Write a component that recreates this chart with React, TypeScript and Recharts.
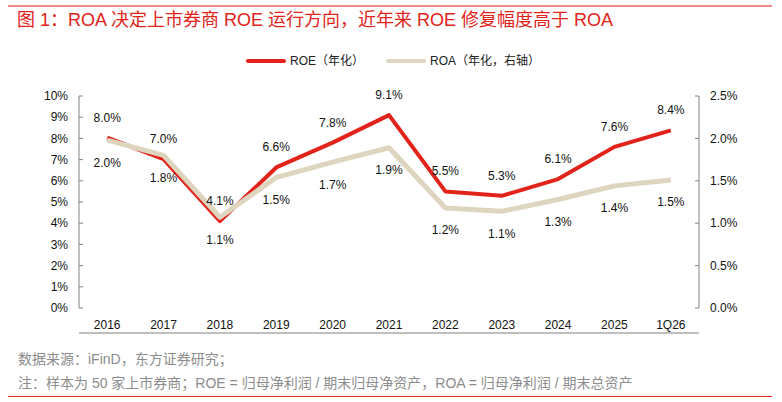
import React from 'react';
import { LineChart, Line, XAxis, YAxis, LabelList } from 'recharts';

const categories = ['2016', '2017', '2018', '2019', '2020', '2021', '2022', '2023', '2024', '2025', '1Q26'];
const roeValues = [8.04, 7.02, 4.1, 6.63, 7.8, 9.1, 5.5, 5.29, 6.08, 7.6, 8.38];
const roaValues = [1.98, 1.8, 1.07, 1.54, 1.72, 1.89, 1.18, 1.14, 1.28, 1.44, 1.51];
const leftTicks = [0, 1, 2, 3, 4, 5, 6, 7, 8, 9, 10];
const rightTicks = [0, 0.5, 1, 1.5, 2, 2.5];
const boundaryTicks = [0.5, 1.5, 2.5, 3.5, 4.5, 5.5, 6.5, 7.5, 8.5, 9.5];
const centerTicks = categories.map((_, i) => i);

const title = '图 1：ROA 决定上市券商 ROE 运行方向，近年来 ROE 修复幅度高于 ROA';
const roeName = 'ROE（年化）';
const roaName = 'ROA（年化，右轴）';
const source = '数据来源：iFinD，东方证券研究；';
const note = '注：样本为 50 家上市券商；ROE = 归母净利润 / 期末归母净资产，ROA = 归母净利润 / 期末总资产';

const data = categories.map((c, i) => ({ i, name: c, roe: roeValues[i], roa: roaValues[i] }));

const RED = '#e2231a';
const BEIGE = '#ded5bf';
const AXIS = '#808080';
const FONT = '"Liberation Sans", Arial, "Noto Sans CJK SC", sans-serif';

export default function App() {
  return (
    <div style={{ position: 'absolute', left: 0, top: 0, width: 782, height: 402, background: '#fff', fontFamily: FONT, overflow: 'hidden' }}>
      <div style={{ position: 'absolute', left: 8, top: 5, width: 764, height: 2, background: '#f08a86' }} />
      <div style={{ position: 'absolute', left: 17, top: 8, fontSize: 18, color: RED, whiteSpace: 'nowrap', lineHeight: '24px' }}>{title}</div>
      <div style={{ position: 'absolute', left: 246, top: 52, display: 'flex', alignItems: 'center', fontSize: 12, color: '#222', whiteSpace: 'nowrap', lineHeight: '18px' }}>
        <span style={{ display: 'inline-block', width: 40, height: 4, background: RED, borderRadius: 2, marginRight: 4 }} />
        <span>{roeName}</span>
        <span style={{ display: 'inline-block', width: 40, height: 4, background: BEIGE, borderRadius: 2, marginLeft: 22, marginRight: 4 }} />
        <span>{roaName}</span>
      </div>
      <div style={{ position: 'absolute', left: 0, top: 0 }}>
        <LineChart width={782} height={340} data={data} margin={{ top: 96, right: 33, bottom: 6, left: 39 }}>
          <XAxis
            xAxisId="ticks"
            dataKey="i"
            type="number"
            domain={[-0.5, 10.5]}
            ticks={boundaryTicks}
            tick={false}
            height={1}
            tickSize={-4}
            stroke={AXIS}
            tickLine={{ stroke: AXIS }}
            axisLine={{ stroke: AXIS }}
          />
          <XAxis
            xAxisId="labels"
            dataKey="i"
            type="number"
            domain={[-0.5, 10.5]}
            ticks={centerTicks}
            interval={0}
            tickFormatter={(v: number) => categories[v]}
            height={25}
            axisLine={false}
            tickLine={false}
            tickMargin={6}
            tick={{ fill: '#111', fontSize: 12, fontFamily: FONT }}
          />
          <YAxis
            yAxisId="l"
            domain={[0, 10]}
            ticks={leftTicks}
            interval={0}
            width={40}
            tickFormatter={(v: number) => `${v}%`}
            tickSize={-4}
            tickMargin={15}
            stroke={AXIS}
            tick={{ fill: '#111', fontSize: 12, fontFamily: FONT }}
          />
          <YAxis
            yAxisId="r"
            orientation="right"
            domain={[0, 2.5]}
            ticks={rightTicks}
            interval={0}
            width={50}
            tickFormatter={(v: number) => `${v.toFixed(1)}%`}
            tickSize={-4}
            tickMargin={15}
            stroke={AXIS}
            tick={{ fill: '#111', fontSize: 12, fontFamily: FONT }}
          />
          <Line
            xAxisId="ticks"
            yAxisId="l"
            dataKey="roe"
            stroke={RED}
            strokeWidth={4}
            dot={false}
            activeDot={false}
            strokeLinejoin="round"
            isAnimationActive={false}
          >
            <LabelList
              dataKey="roe"
              position="top"
              offset={16}
              formatter={(v: number) => `${v.toFixed(1)}%`}
              style={{ fill: '#111', fontSize: 12, fontFamily: FONT }}
            />
          </Line>
          <Line
            xAxisId="ticks"
            yAxisId="r"
            dataKey="roa"
            stroke={BEIGE}
            strokeWidth={5}
            dot={false}
            activeDot={false}
            strokeLinejoin="round"
            isAnimationActive={false}
          >
            <LabelList
              dataKey="roa"
              position="bottom"
              offset={18}
              formatter={(v: number) => `${v.toFixed(1)}%`}
              style={{ fill: '#111', fontSize: 12, fontFamily: FONT }}
            />
          </Line>
        </LineChart>
      </div>
      <div style={{ position: 'absolute', left: 18, top: 350, fontSize: 14, color: '#8c8c8c', whiteSpace: 'nowrap', lineHeight: '18px' }}>{source}</div>
      <div style={{ position: 'absolute', left: 18, top: 374, fontSize: 14, color: '#8c8c8c', whiteSpace: 'nowrap', lineHeight: '18px' }}>{note}</div>
      <div style={{ position: 'absolute', left: 8, top: 396, width: 764, height: 1, background: RED }} />
    </div>
  );
}
